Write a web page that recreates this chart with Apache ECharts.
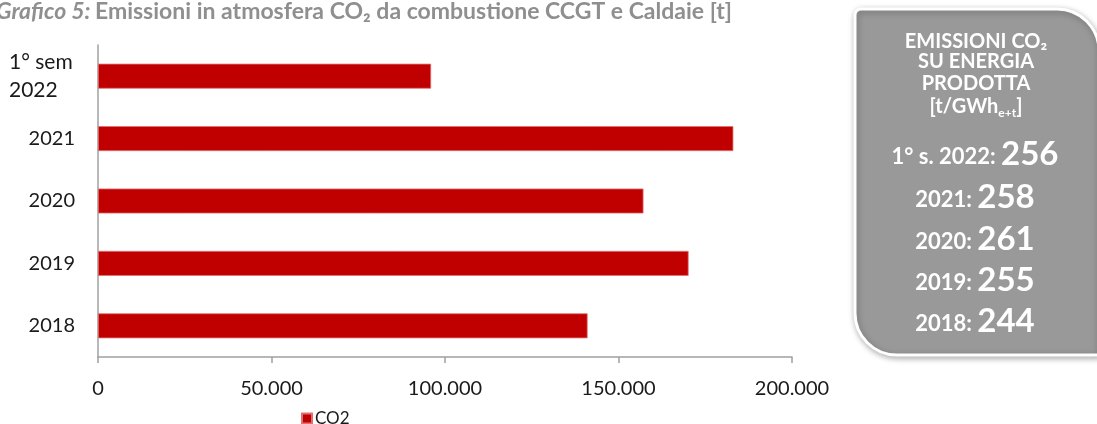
<!DOCTYPE html>
<html>
<head>
<meta charset="utf-8">
<script src="https://cdn.jsdelivr.net/npm/echarts@6/dist/echarts.min.js"></script>
<style>
  html, body { margin: 0; padding: 0; background: #fff; }
  #chart { width: 1097px; height: 424px; }
</style>
</head>
<body>
<div id="chart"></div>
<script>
// categories, bottom to top as drawn
var categories = ['2018', '2019', '2020', '2021', '1° sem\n2022']
var co2Values = [141100, 170200, 157200, 183100, 96000]
var xTicks = [0, 50000, 100000, 150000, 200000]

// side box: intensity t/GWh
var boxLabels = ['1° s. 2022:', '2021:', '2020:', '2019:', '2018:']
var boxValues = [256, 258, 261, 255, 244]

var FONT = 'Lato'
var RED = '#C00000'

var chart = echarts.init(document.getElementById('chart'))

function fmt(v) {
  return String(v).replace(/\B(?=(\d{3})+(?!\d))/g, '.')
}

var graphics = [{
  type: 'rect',
  shape: { x: 855, y: 9, width: 244, height: 346, r: [6, 42, 0, 42] },
  style: {
    fill: '#999999',
    stroke: '#ffffff',
    lineWidth: 3,
    shadowBlur: 6,
    shadowColor: 'rgba(0,0,0,0.3)',
    shadowOffsetX: 1,
    shadowOffsetY: 2
  },
  z: 1
}]

var headLines = ['EMISSIONI CO₂', 'SU ENERGIA', 'PRODOTTA']
var headY = [42, 62, 84]
headLines.forEach(function (t, i) {
  graphics.push({
    type: 'text', x: 976, y: headY[i], z: 2,
    style: { text: t, fill: '#fff', font: 'bold 20px ' + FONT, align: 'center', verticalAlign: 'middle' }
  })
})
graphics.push({
  type: 'text', x: 976, y: 105, z: 2,
  style: {
    text: '{a|[t/GWh}{s|e+t}{a|]}',
    align: 'center', verticalAlign: 'middle',
    rich: {
      a: { fill: '#fff', fontFamily: FONT, fontWeight: 'bold', fontSize: 20, lineHeight: 24, verticalAlign: 'bottom' },
      s: { fill: '#fff', fontFamily: FONT, fontWeight: 'bold', fontSize: 12, lineHeight: 24, verticalAlign: 'bottom', padding: [0, 0, -2, 0] }
    }
  }
})
var valY = [153, 196, 238, 279, 320]
boxLabels.forEach(function (l, i) {
  graphics.push({
    type: 'text', x: 975, y: valY[i], z: 2,
    style: {
      text: '{l|' + l + ' }{n|' + boxValues[i] + '}',
      align: 'center', verticalAlign: 'middle',
      rich: {
        l: { fill: '#fff', fontFamily: FONT, fontWeight: 'bold', fontSize: 22, lineHeight: 36, verticalAlign: 'bottom', padding: [0, 0, 3, 0] },
        n: { fill: '#fff', fontFamily: FONT, fontWeight: 'bold', fontSize: 33, lineHeight: 36, verticalAlign: 'bottom' }
      }
    }
  })
})

chart.setOption({
  animation: false,
  textStyle: { fontFamily: FONT },
  title: {
    left: -4,
    top: 0,
    padding: 0,
    text: '{i|Grafico 5:} {b|Emissioni in atmosfera CO₂ da combustione CCGT e Caldaie [t]}',
    textStyle: {
      rich: {
        i: { fontFamily: FONT, fontStyle: 'italic', fontWeight: 'bold', fontSize: 23, color: '#8f8f8f' },
        b: { fontFamily: FONT, fontWeight: 'bold', fontSize: 23, color: '#8f8f8f' }
      }
    }
  },
  legend: {
    left: 296,
    top: 405,
    itemWidth: 10,
    itemHeight: 10,
    itemGap: 4,
    icon: 'rect',
    textStyle: { fontFamily: FONT, fontSize: 17, color: '#1a1a1a', padding: [0, 0, 0, -2] },
    data: ['CO2']
  },
  grid: { left: 98, right: 305, top: 45, bottom: 67, containLabel: false },
  xAxis: {
    type: 'value',
    min: 0,
    max: 200000,
    interval: 50000,
    splitLine: { show: false },
    axisLine: { show: true, lineStyle: { color: '#a0a0a0', width: 1.5 } },
    axisTick: { show: true, length: 6, lineStyle: { color: '#a0a0a0', width: 1.5 } },
    axisLabel: {
      margin: 22,
      fontFamily: FONT, fontSize: 20, color: '#1a1a1a',
      formatter: function (v) { return xTicks.indexOf(v) >= 0 ? fmt(v) : '' }
    }
  },
  yAxis: {
    type: 'category',
    data: categories,
    axisLine: { show: true, lineStyle: { color: '#a0a0a0', width: 1.5 } },
    axisTick: { show: false },
    axisLabel: {
      margin: 23,
      fontFamily: FONT, fontSize: 20, color: '#1a1a1a',
      formatter: function (v) {
        if (v.indexOf('\n') >= 0) {
          return v.split('\n').map(function (s) { return '{w|' + s + '}' }).join('\n')
        }
        return v
      },
      rich: {
        w: { width: 66, align: 'left', fontFamily: FONT, fontSize: 21, color: '#1a1a1a', lineHeight: 28 }
      }
    }
  },
  series: [{
    name: 'CO2',
    type: 'bar',
    data: co2Values,
    barWidth: '40%',
    itemStyle: { color: RED, borderColor: '#e07070', borderWidth: 0.8 }
  }],
  graphic: graphics
})
</script>
</body>
</html>
